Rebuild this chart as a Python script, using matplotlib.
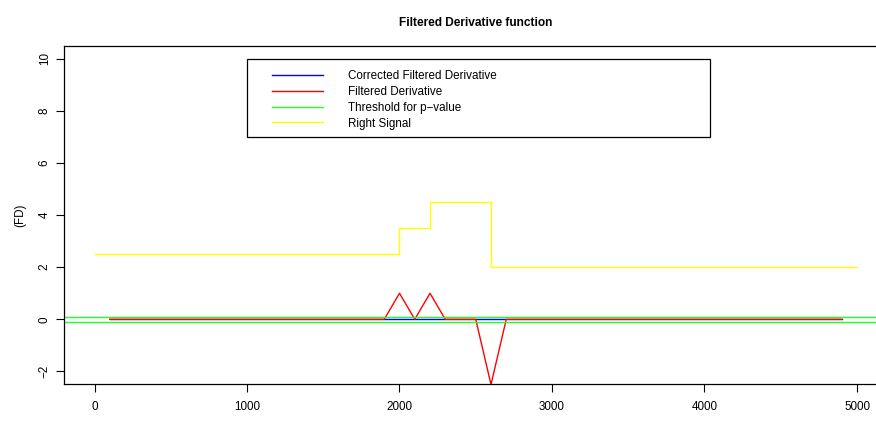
import matplotlib
matplotlib.use("Agg")
import matplotlib.pyplot as plt
from matplotlib.patches import Rectangle

plt.rcParams['font.family'] = ['Liberation Sans', 'DejaVu Sans']

# signal (step function)
sig_x = [0, 2000, 2000, 2200, 2200, 2600, 2600, 5000]
sig_y = [2.5, 2.5, 3.5, 3.5, 4.5, 4.5, 2.0, 2.0]

# filtered derivative
fd_x = [100, 1900, 2000, 2100, 2200, 2300, 2500, 2600, 2700, 4900]
fd_y = [0, 0, 1, 0, 1, 0, 0, -2.5, 0, 0]

# corrected filtered derivative
cfd_x = [100, 4900]
cfd_y = [0, 0]

threshold = 0.1

fig = plt.figure(figsize=(8.76, 4.30), dpi=100)
ax = fig.add_axes([64/876, 1-384/430, 823.5/876, 338/430])

ax.plot(sig_x, sig_y, color='yellow', lw=1.0, label='Right Signal')
ax.plot(cfd_x, cfd_y, color='blue', lw=1.0, label='Corrected Filtered Derivative')
ax.plot(fd_x, fd_y, color='red', lw=1.0, label='Filtered Derivative')
ax.axhline(threshold, color='#22ff22', lw=1.0, label='Threshold for p\u2212value')
ax.axhline(-threshold, color='#22ff22', lw=1.0)

ax.set_xlim(-200, 5200)
ax.set_ylim(-2.48, 10.48)
ax.set_xticks([0, 1000, 2000, 3000, 4000, 5000])
ax.set_yticks([-2, 0, 2, 4, 6, 8, 10])
ax.set_yticklabels(['\u22122', '0', '2', '4', '6', '8', '10'], rotation=90, va='center')
ax.tick_params(labelsize=8.4, length=6, width=0.8, pad=6)
ax.tick_params(axis='y', pad=3.5)
for s in ax.spines.values():
    s.set_linewidth(0.9)

ax.set_title('Filtered Derivative function', fontsize=8.6, fontweight='bold', pad=14.5)
ax.set_ylabel('(FD)', fontsize=8.4, labelpad=9)
ax.set_xlabel('t', fontsize=8.4, labelpad=21)

# legend box
fig.patches.append(Rectangle((247/876, 1-137/430), 463/876, 78/430,
                             transform=fig.transFigure, fill=False,
                             edgecolor='black', lw=0.9))
h, l = ax.get_legend_handles_labels()
order = [1, 2, 3, 0]
leg = fig.legend([h[i] for i in order], [l[i] for i in order],
                 loc='upper left', bbox_to_anchor=(272/876, 1-70/430),
                 fontsize=8.4, frameon=False, handlelength=4.35, handletextpad=2.15,
                 borderpad=0, labelspacing=0.33, borderaxespad=0)

fig.savefig('out.png', dpi=100)
